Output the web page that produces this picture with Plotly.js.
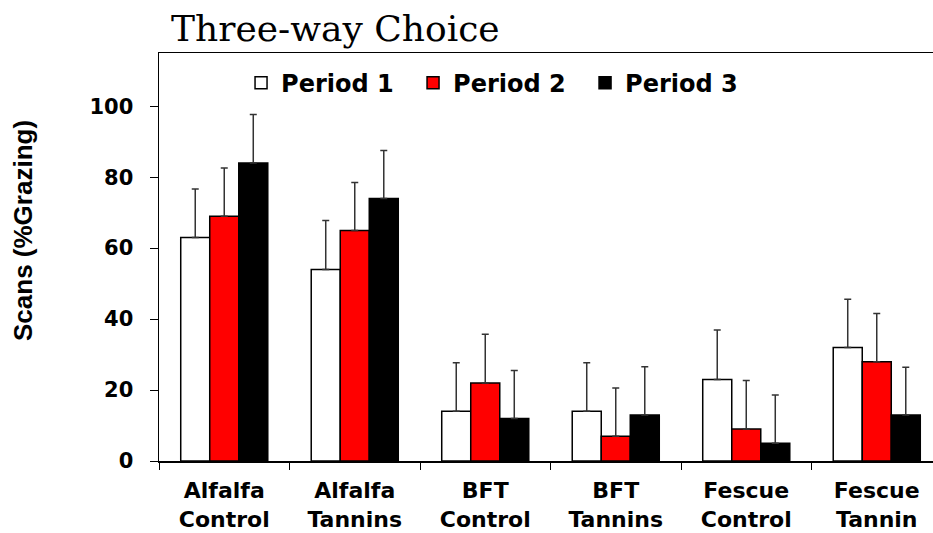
<!DOCTYPE html>
<html>
<head>
<meta charset="utf-8">
<script src="https://cdn.plot.ly/plotly-3.0.1.min.js"></script>
<style>html,body{margin:0;padding:0;background:#fff;}#chart{width:933px;height:533px;}</style>
</head>
<body>
<div id="chart"></div>
<script>
const categories = ["Alfalfa<br>Control", "Alfalfa<br>Tannins", "BFT<br>Control", "BFT<br>Tannins", "Fescue<br>Control", "Fescue<br>Tannin"];
const seriesNames = ["Period 1", "Period 2", "Period 3"];
const period1 = [63, 54, 14, 14, 23, 32];
const period2 = [69, 65, 22, 7, 9, 28];
const period3 = [84, 74, 12, 13, 5, 13];
const err1 = [13.7, 13.8, 13.7, 13.7, 13.9, 13.6];
const err2 = [13.6, 13.5, 13.7, 13.6, 13.7, 13.6];
const err3 = [13.7, 13.5, 13.5, 13.6, 13.6, 13.4];
const yTicks = [0, 20, 40, 60, 80, 100];

const colors = ["#ffffff", "#ff0000", "#000000"];
const vals = [period1, period2, period3];
const errs = [err1, err2, err3];

const traces = vals.map((v, i) => ({
  type: "bar",
  name: seriesNames[i],
  x: categories,
  y: v,
  marker: {color: colors[i], line: {color: "#000", width: 1.5}},
  error_y: {type: "data", array: errs[i], arrayminus: v.map(() => 0), symmetric: false,
            color: "#333", thickness: 1.5, width: 3.5},
  hoverinfo: "skip"
}));

const tickFont = {family: "DejaVu Sans", size: 21, color: "#000", weight: "bold"};

const layout = {
  width: 933, height: 533,
  margin: {l: 159, r: 0, t: 53, b: 72, pad: 0},
  paper_bgcolor: "#fff", plot_bgcolor: "#fff",
  barmode: "group", bargap: 0.333, bargroupgap: 0,
  showlegend: true,
  title: {text: "Three-way Choice", font: {family: "DejaVu Serif", size: 36, color: "#000"},
          x: 171 / 933, xref: "container", xanchor: "left",
          y: 1 - 28 / 533, yref: "container", yanchor: "middle"},
  legend: {orientation: "h", x: 0.106, xanchor: "left", y: 0.926, yanchor: "middle",
           font: {family: "DejaVu Sans", size: 24, color: "#000", weight: "bold"},
           bgcolor: "rgba(0,0,0,0)", entrywidth: 127, traceorder: "normal"},
  xaxis: {type: "category", range: [-0.5, 5.431], tickson: "boundaries",
          showline: true, linecolor: "#000", linewidth: 1.5, mirror: true,
          ticks: "outside", ticklen: 7, tickwidth: 1, tickcolor: "#000",
          tickfont: Object.assign({}, tickFont, {size: 22}), showgrid: false, zeroline: false, fixedrange: true,
          ticklabelstandoff: 9},
  yaxis: {range: [0, 115], tickvals: yTicks, ticktext: yTicks.map(String),
          showline: true, linecolor: "#000", linewidth: 1.5,
          ticks: "outside", ticklen: 8, tickwidth: 1, tickcolor: "#000",
          tickfont: tickFont, showgrid: false, zeroline: false, fixedrange: true,
          ticklabelstandoff: 12},
  annotations: [{text: "Scans (%Grazing)", textangle: -90, showarrow: false,
                 xref: "paper", x: (23 - 159) / 774, xanchor: "center",
                 yref: "paper", y: (461 - 231) / 408, yanchor: "middle",
                 font: {family: "Liberation Sans", size: 26, color: "#000", weight: "bold"}}]
};

Plotly.newPlot("chart", traces, layout, {displayModeBar: false, staticPlot: true});
</script>
</body>
</html>
